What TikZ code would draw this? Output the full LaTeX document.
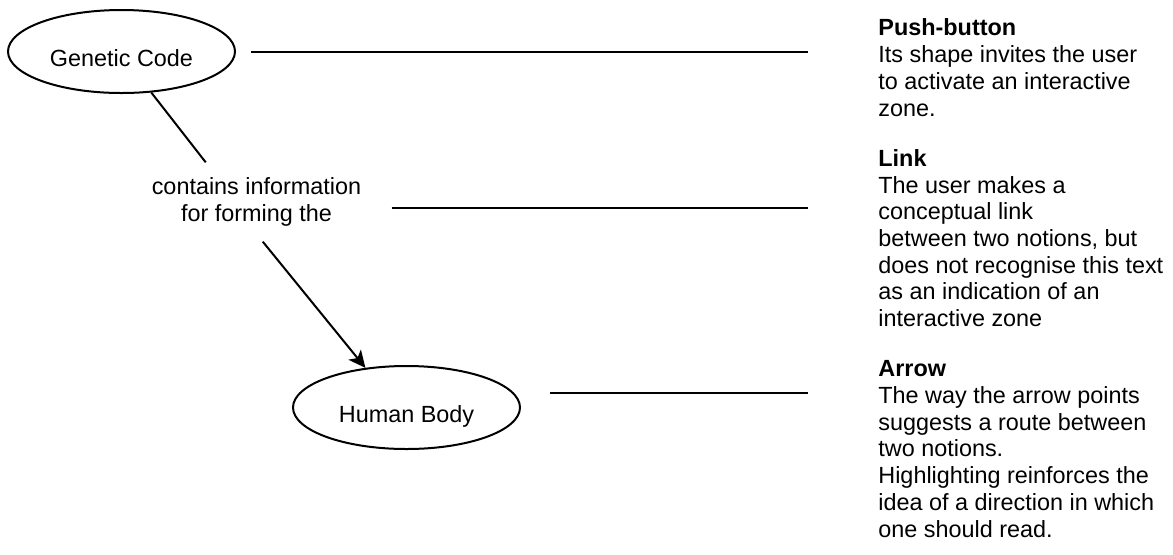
\documentclass[tikz,border=0pt]{standalone}
\usepackage{fontspec}
\setmainfont{Liberation Sans}
\usepackage{tikz}
\usetikzlibrary{arrows.meta,positioning,shapes.geometric}
\tikzset{
  concept/.style={draw, ellipse, line width=1pt, minimum width=113.5pt, minimum height=41.5pt, text height=14.5pt, text depth=0pt},
  linklabel/.style={align=center, inner xsep=2pt, inner ysep=7.5pt},
  note/.style={align=left, anchor=base west, inner sep=0pt},
  connector/.style={line width=1pt},
  arrow/.style={-{Stealth[length=8.5pt, width=8pt, inset=2.2pt]}, line width=1pt}
}

\begin{document}
\begin{tikzpicture}[x=0.5pt, y=-0.5pt, font=\fontsize{11.7pt}{13.35pt}\selectfont]
  \useasboundingbox (0,0) rectangle (1173,554);

  \node[concept] (genetic) at (121.5,51.5) {Genetic Code};
  \node[linklabel] (contains) at (256.5,202) {contains information\\for forming the};
  \node[concept] (body) at (406.5,407.5) {Human Body};

  % explanations on the right (placed by the baseline of their last line)
  \node[note] (pushnote) at (878,116) {\textbf{Push-button}\\
    Its shape invites the user\\
    to activate an interactive\\
    zone.};
  \node[note] (linknote) at (878,326.6) {\textbf{Link}\\
    The user makes a\\
    conceptual link\\
    between two notions, but\\
    does not recognise this text\\
    as an indication of an\\
    interactive zone};
  \node[note] (arrownote) at (878,537) {\textbf{Arrow}\\
    The way the arrow points\\
    suggests a route between\\
    two notions.\\
    Highlighting reinforces the\\
    idea of a direction in which\\
    one should read.};

  % free ends of the pointer lines
  \coordinate (pushend) at (808,52);
  \coordinate (linkend) at (808,208);
  \coordinate (arrowend) at (808,393);

  \draw[connector] (genetic.-54) -- (contains.142);
  \draw[arrow] (contains.-81) -- (body.136);

  \draw[connector, shorten <=7.5pt] (genetic.east |- pushend) -- (pushend);
  \draw[connector, shorten <=13pt] (contains.east |- linkend) -- (linkend);
  \draw[connector, shorten <=14.5pt] (body.east |- arrowend) -- (arrowend);
\end{tikzpicture}
\end{document}
